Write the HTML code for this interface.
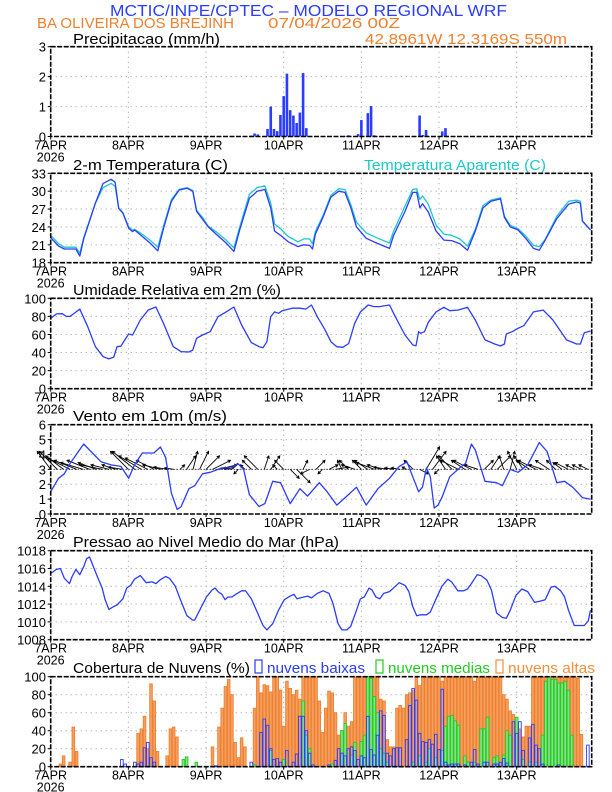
<!DOCTYPE html>
<html><head><meta charset="utf-8"><style>
html,body{margin:0;padding:0;background:#fff;}
svg{display:block;font-family:"Liberation Sans",sans-serif;}
</style></head><body>
<svg id="chart" width="612" height="792" viewBox="0 0 612 792" xmlns="http://www.w3.org/2000/svg">
<text x="110" y="16" font-size="16" fill="#2a3cff" textLength="397" lengthAdjust="spacingAndGlyphs">MCTIC/INPE/CPTEC – MODELO REGIONAL WRF</text>
<text x="37" y="28" font-size="15" fill="#ee8030" textLength="197" lengthAdjust="spacingAndGlyphs">BA OLIVEIRA DOS BREJINH</text>
<text x="268" y="28" font-size="15" fill="#ee8030" textLength="132" lengthAdjust="spacingAndGlyphs">07/04/2026 00Z</text>
<text x="365" y="44" font-size="15" fill="#ee8030" textLength="202" lengthAdjust="spacingAndGlyphs">42.8961W 12.3169S 550m</text>
<text x="73" y="44" font-size="15" fill="#000" textLength="147" lengthAdjust="spacingAndGlyphs">Precipitacao (mm/h)</text>
<text x="73" y="170" font-size="15" fill="#000" textLength="155" lengthAdjust="spacingAndGlyphs">2-m Temperatura (C)</text>
<text x="364" y="170" font-size="15" fill="#1ec8c8" textLength="182" lengthAdjust="spacingAndGlyphs">Temperatura Aparente (C)</text>
<text x="73" y="295" font-size="15" fill="#000" textLength="208" lengthAdjust="spacingAndGlyphs">Umidade Relativa em 2m (%)</text>
<text x="73" y="421" font-size="15" fill="#000" textLength="154" lengthAdjust="spacingAndGlyphs">Vento em 10m (m/s)</text>
<text x="73" y="547" font-size="15" fill="#000" textLength="266" lengthAdjust="spacingAndGlyphs">Pressao ao Nivel Medio do Mar (hPa)</text>
<text x="73" y="673" font-size="15" fill="#000" textLength="177" lengthAdjust="spacingAndGlyphs">Cobertura de Nuvens (%)</text>
<rect x="255" y="660" width="7" height="13" fill="none" stroke="#2a3cff" stroke-width="1.2"/>
<text x="267" y="673" font-size="15" fill="#2a3cff" textLength="98" lengthAdjust="spacingAndGlyphs">nuvens baixas</text>
<rect x="376" y="660" width="7" height="13" fill="none" stroke="#22cc22" stroke-width="1.2"/>
<text x="388" y="673" font-size="15" fill="#22cc22" textLength="102" lengthAdjust="spacingAndGlyphs">nuvens medias</text>
<rect x="496" y="660" width="7" height="13" fill="none" stroke="#f0903e" stroke-width="1.2"/>
<text x="508" y="673" font-size="15" fill="#f0903e" textLength="87" lengthAdjust="spacingAndGlyphs">nuvens altas</text>
</svg>
<script>
// ---- data ----
const dayLabels = ["7APR","8APR","9APR","10APR","11APR","12APR","13APR"];
const precipHours = [38,42,62,63,64,67,68,69,70,71,72,73,74,75,76,77,78,79,91,92,95,96,98,99,100,103,114,115,116,121,122,159];
const precipVals = [0.01,0.03,0.03,0.1,0.07,0.25,1.0,0.25,0.18,0.72,1.35,2.1,0.88,0.7,0.45,0.8,2.12,0.28,0.02,0.04,0.08,0.55,0.78,1.02,0.04,0.01,0.7,0.05,0.22,0.17,0.28,0.01];
const tempHours = [0,2.4,4.2,7.8,9,10.2,13.8,16.2,18.7,19.9,21,22.3,24.1,25.3,25.9,27.7,30.7,33.1,34.9,37.3,39.7,42.1,43.9,45.1,46.9,48.7,51.1,54.2,56.6,58.4,61.4,63.8,66.2,68,69.2,71,73.4,76.4,78.2,80,80.9,81.8,84.2,86.6,89,90.9,92.7,94.5,97.5,101.1,104.7,105.9,109.5,111.9,113.1,114.1,114.9,116.7,119.1,121.5,123.9,126.4,128.8,131.2,133.6,136,139,140.2,142,144.4,146.8,149.2,151,152.8,156.4,160,162.5,163.7,164.3,166.8];
const tempVals = [22.2,20.8,20.3,20.3,19.1,22.0,28.0,31.3,32.0,31.5,27.1,26.3,23.8,23.2,23.5,22.7,21.3,20.0,23.8,28.3,30.2,30.5,30.0,26.6,25.3,24.0,22.8,21.3,19.9,23.5,28.8,30.0,30.3,27.2,23.3,22.6,21.5,20.7,21.0,20.9,20.3,22.8,25.7,29.0,30.0,29.8,27.3,24.0,22.1,21.2,20.4,22.5,26.6,29.8,29.8,27.2,27.9,26.5,23.3,21.8,21.7,21.2,20.1,23.3,27.2,28.3,28.7,25.6,24.0,23.5,22.1,20.4,20.1,21.8,25.4,27.8,28.2,28.0,25.0,23.5];
const apparentVals = [22.6,21.2,20.6,20.6,19.6,22.2,28.0,30.6,31.3,30.8,27.2,26.4,24.0,23.4,23.6,23.0,21.8,20.6,24.2,28.6,30.3,30.6,30.1,26.8,25.6,24.1,23.2,21.8,20.5,24.0,29.5,30.6,30.9,28.0,24.5,23.7,22.4,21.5,22.0,22.0,21.2,23.2,26.0,29.3,30.4,30.3,27.8,24.8,23.0,22.1,21.3,23.2,27.5,30.3,30.4,28.6,29.2,27.8,24.3,22.8,22.6,22.0,20.8,23.6,27.6,28.5,28.9,25.8,24.3,23.7,22.5,20.9,20.7,21.9,25.8,28.3,28.5,28.3,25.0,23.5];
const rhHours = [0,1.8,3.6,4.8,6,9,11.4,13.8,16.2,18,19.5,20.5,21.7,22.9,24.1,25.3,27.7,30.1,32.5,34.9,37.9,40.3,42.7,43.9,45.1,46.9,49.3,51.7,54.2,56.6,59,62,64.4,65.6,66.8,68,69.2,70.4,71.6,74.6,77,78.8,80.6,82.4,84.8,86.6,88.4,90.3,92.1,93.9,95.7,98.1,99.9,101.7,104.7,106.5,109.5,111.9,112.9,113.7,114.3,115.5,116.7,119.1,121.5,123.3,125.8,128.8,131.2,134.2,137.2,139,140.2,140.8,142.6,144.4,146.2,149.2,152.2,155.2,159.4,162.5,163.7,164.9,166.8];
const rhVals = [77.9,82.7,83,80,80,88,69,46.5,35.4,33,35,46.5,47,54,60.5,59.4,76,87,90.4,72,46.5,41,40.6,42.8,55.7,59.4,63,79.7,85,90.4,70.5,51,46.5,45.4,52,79.7,85,83.4,86.3,89,89,88,92.6,79.7,65,52,46.5,45.8,50,72,85,92.6,90.8,90.8,92.6,79.7,59.4,48.3,47.6,63,61.3,63,73.4,85,90,86.3,87,90,76,54,49.4,47.2,49.4,60.5,63,66.8,69.7,85,87,76,54,49.4,49.4,62,63.8];
const windHours = [0,2.4,4.2,6,10.2,12,15.6,18.7,21.7,24.1,25.9,28.3,31.9,33.9,35.5,37.3,39.1,40.3,42.7,44.5,46.9,49.3,52.9,56,57.8,59.6,61.4,64.4,66.2,68.6,71,74,77,79.4,83,85.4,88.4,91.5,94.5,97.5,101.1,104.7,107.7,110.1,111.9,113.7,114.9,116.1,117.3,118.5,119.7,120.9,123.3,126.4,128.2,130,131.2,134.2,137.8,139.6,142,144.4,147.4,151,153.4,156.4,158.8,161.3,164.3,166.8];
const windSpeed = [1.5,2.4,2.7,3.4,4.7,4.3,3.5,3.3,3.2,2.4,3.3,4.1,4.1,4.5,3.8,1.4,0.3,0.5,1.7,1.9,2.7,2.8,3.1,3.1,3.4,3.0,1.3,0.5,0.7,2.2,2.1,0.7,1.7,1.2,2.1,1.5,0.6,1.2,1.8,0.6,1.7,2.4,3.2,3.5,2.5,1.5,1.8,3.1,2.5,0.4,0.6,1.1,2.5,3.1,3.4,4.7,4.3,2.2,2.1,1.9,3.0,2.8,3.3,4.8,4.2,2.1,2.2,1.8,1.1,1.0];
const vecHours = [0,2,4,6,8,10,12,14,16,18,20,22,24,26,28,30,32,34,36,38,40,42,44,46,48,50,52,54,56,58,60,62,64,66,68,70,72,74,76,78,80,82,84,86,88,90,92,94,96,98,100,102,104,106,108,110,112,114,116,118,120,122,124,126,128,130,132,134,136,138,140,142,144,146,148,150,152,154,156,158,160,162,164,166];
const windU = [-3,-4,-4,-5,-5,-5,-5,-4,-5,-4,-3,-3,-4,-5,-5,-5,-4,-4,-3,-2,1,2,1,2,3,4,4,2,-2,-1,-1,-2,-3,1,2,-1,-2,2,3,1,-2,2,-1,2,3,-1,-2,-3,-2,-3,-4,-3,-3,-2,-2,-1,-2,2,3,3,-1,-2,-3,-4,-3,-4,-3,2,2,3,-1,1,-2,-2,-3,-4,-3,-3,-2,-2,-3,-2,-2,-2];
const windV = [4,4,3,2.5,2,1.5,2,1.5,1,1,1,0.5,4,4,3,2.5,2,1,0.5,0.3,1,3,4,4,3,2,1,0.5,0.3,-1,1,2,3,3,3,1,2,-2,-3,2,-1,2,-1,1,0.5,2,2,1,2,2,1.5,1,0.5,0.3,0.3,0.5,2,-1,5,4,-1,3,3,2,2,2,1,2,3,3,3,4,4,3,2,2,1,2,2,1.5,1.5,1,1,1];
const presHours = [0,1.8,3,4.2,5.8,6.6,7.8,9,10.2,11.1,12,13.2,14.4,15.9,16.8,18,19.3,20.5,22.3,23.5,24.7,25.9,27.7,29.5,31.3,32.5,33.7,35.5,36.7,38.5,40.3,42.1,43.9,44.5,46.3,48.1,49.9,50.8,51.7,52.9,53.9,54.8,56,57.2,59,60.2,62,63.8,65.6,66.8,68.6,70.4,72.2,74,75.2,76.1,78.2,79.4,80.6,82.4,84.2,86,87.2,88.8,90,91.5,92.7,94.5,95.7,96.9,98.4,99.3,100.5,101.7,102.9,104.7,106.5,107.7,109.5,110.7,111.9,113.1,114.3,116.1,117.3,119.1,120.9,122.7,123.9,125.8,127.6,128.8,130,131.8,133,134.8,136.2,137.8,139.6,140.8,142,143.8,145.6,147.4,149.5,151,152.8,154.6,155.8,157.6,158.8,160,161.8,163.6,164.9,166.1,166.8];
const presVals = [1015.45,1015.9,1016.0,1014.9,1014.3,1015.1,1015.9,1015.3,1016.2,1017.1,1017.3,1016.2,1015.1,1013.8,1012.5,1011.4,1011.7,1011.9,1012.6,1013.8,1014.1,1014.8,1015.2,1014.4,1014.5,1014.3,1014.7,1015.1,1014.9,1014.0,1012.3,1010.7,1010.2,1010.2,1011.5,1012.8,1013.6,1013.8,1013.4,1013.1,1012.5,1012.8,1012.8,1013.1,1013.5,1013.5,1012.6,1011.1,1009.6,1009.1,1009.8,1011.3,1012.5,1012.9,1013.1,1012.6,1012.8,1012.9,1012.7,1013.2,1013.5,1013.2,1012.1,1009.8,1009.1,1009.1,1009.5,1011.3,1012.6,1012.8,1013.8,1013.6,1012.8,1012.6,1013.2,1013.4,1014.0,1014.4,1014.1,1013.4,1011.7,1010.7,1010.8,1010.8,1011.1,1012.6,1014.0,1014.8,1014.5,1013.5,1013.5,1013.7,1014.3,1015.3,1015.2,1014.7,1013.6,1011.0,1010.5,1010.4,1011.3,1013.0,1013.7,1013.4,1012.2,1012.3,1012.5,1013.9,1014.0,1013.5,1012.8,1011.3,1009.6,1009.6,1009.6,1010.1,1011.3];
const highHours = [3,4,6,7,8,27,28,29,30,31,32,33,36,37,38,39,50,52,53,54,55,56,57,58,59,60,63,64,65,66,67,68,69,70,71,72,73,74,75,76,77,78,79,80,81,82,83,84,85,86,87,88,89,90,91,92,93,94,95,96,97,98,99,100,101,102,103,104,105,106,107,108,109,110,111,112,113,114,115,116,117,118,119,120,121,122,123,124,125,126,127,128,129,130,131,132,133,134,135,136,137,138,139,140,141,142,143,144,145,146,147,148,149,150,151,152,153,154,155,156,157,158,159,160,161,162,163,164];
const highVals = [3,12,5,44,17,37,42,56,20,92,73,17,12,42,44,33,22,44,65,89,97,80,27,10,32,22,65,100,82,91,90,83,100,100,85,45,95,87,80,85,75,100,100,100,100,100,73,38,65,84,82,60,35,40,60,45,50,100,100,100,100,100,100,100,100,75,73,30,22,22,65,68,65,80,82,85,100,90,100,100,100,100,100,100,95,100,100,100,100,100,100,100,100,100,95,100,100,100,100,100,100,100,100,80,75,62,58,52,42,33,45,45,100,100,100,100,100,100,100,100,100,100,100,100,100,100,98,36];
const midHours = [41,42,45,63,68,72,78,79,80,87,90,91,93,94,96,97,98,99,100,101,102,103,104,112,114,116,117,119,121,122,123,124,125,126,128,129,131,133,134,135,137,138,140,141,142,144,146,148,150,152,153,154,155,156,157,158,159,160,161];
const midVals = [8,11,5,2,18,8,73,35,20,3,40,48,13,27,28,35,100,98,78,60,20,15,5,5,12,5,20,10,18,45,56,57,51,46,12,5,5,42,42,55,10,12,13,40,35,55,8,5,5,35,95,100,97,97,93,93,95,85,35];
const lowHours = [22,23,26,27,28,29,30,31,32,51,62,65,66,67,68,69,70,71,73,75,76,77,78,79,80,81,86,88,89,90,91,92,93,94,95,96,97,98,99,100,101,102,103,104,105,106,107,108,110,111,112,113,114,115,116,117,118,119,120,121,122,123,124,125,126,128,130,131,132,134,135,137,138,139,140,141,143,144,145,146,148,149,150,151,152,157,166];
const lowVals = [8,3,5,3,5,21,27,10,5,1,5,38,53,46,20,8,9,5,18,5,14,56,56,40,15,2,2,7,20,15,12,20,22,18,8,12,10,56,19,13,35,62,57,15,12,20,21,21,30,68,87,74,37,28,27,30,25,36,19,86,5,2,3,3,3,2,5,19,3,5,5,3,3,5,9,4,50,37,50,18,32,47,24,20,3,2,24];

// ---- layout ----
const svg = document.getElementById('chart');
const NS = 'http://www.w3.org/2000/svg';
const X0 = 50.7, PXH = 3.236, XR = 591.7;
function xh(h){ return X0 + h*PXH; }
function mk(tag, attrs, parent){
  const e = document.createElementNS(NS, tag);
  for (const k in attrs) e.setAttribute(k, attrs[k]);
  (parent||svg).appendChild(e);
  return e;
}
const BLUE = '#2a3cff';
function panel(name, top, bot, min, max, ticks){
  const g = mk('g', {});
  
  
  const ys = v => bot - (v-min)/(max-min)*(bot-top);
  ticks.forEach(t => {
    if (t !== min && t !== max) {
      const l = mk('line', {x1:X0, x2:XR, y1:ys(t), y2:ys(t), stroke:'#999', 'stroke-width':1, 'stroke-dasharray':'1,4'}, g);
      
      
    }
    const tl = mk('text', {x:46, y:ys(t)+5, 'font-size':13, 'text-anchor':'end', fill:'#000'}, g);
    
    
    tl.textContent = String(t);
    const tk = mk('line', {x1:X0-3, x2:X0, y1:ys(t), y2:ys(t), stroke:'#000'}, g);
    
    
  });
  dayLabels.forEach((d,i) => {
    const x = xh(i*24);
    if (i>0) {
      const l = mk('line', {x1:x, x2:x, y1:top, y2:bot, stroke:'#999', 'stroke-width':1, 'stroke-dasharray':'1,4'}, g);
      
      
    }
    const tk = mk('line', {x1:x, x2:x, y1:bot, y2:bot+3, stroke:'#000'}, g);
    
    
    const tl = mk('text', {x:x, y:bot+13, 'font-size':12.5, 'text-anchor':'middle', fill:'#000'}, g);
    
    
    tl.textContent = d;
  });
  const yr = mk('text', {x:X0, y:bot+25, 'font-size':12.5, 'text-anchor':'middle', fill:'#000'}, g);
  
  
  yr.textContent = '2026';
  const plot = mk('g', {}, g);
  
  
  return {g, plot, ys, top, bot, name};
}
function frame(p){
  const r = mk('rect', {x:X0, y:p.top, width:XR-X0, height:p.bot-p.top, fill:'none', stroke:'#000', 'stroke-width':1.6, 'stroke-dasharray':'5,1.5'}, p.g);
  
  
}
function line(p, hours, vals, color, name){
  const pts = hours.map((h,i) => xh(h).toFixed(1) + ',' + p.ys(vals[i]).toFixed(1)).join(' ');
  const pl = mk('polyline', {points:pts, fill:'none', stroke:color, 'stroke-width':1.3, 'stroke-linejoin':'round'}, p.plot);
  
  
}
function bars(p, hours, vals, fill, stroke, name, w){
  hours.forEach((h,i) => {
    const y = p.ys(vals[i]);
    const r = mk('rect', {x:xh(h)-w/2, y:y, width:w, height:Math.max(0.5, p.bot-y), fill:fill, stroke:stroke, 'stroke-width':0.9}, p.plot);
    
    
  });
}

// precipitation
const pP = panel('precip', 46.7, 136.5, 0, 3, [0,1,2,3]);
bars(pP, precipHours, precipVals, BLUE, 'none', 'precip-bar', 2.6);
frame(pP);

// temperature
const pT = panel('temp', 173.3, 262.7, 18, 33, [18,21,24,27,30,33]);
line(pT, tempHours, apparentVals, '#1ec8c8', 'apparent-temp-line');
line(pT, tempHours, tempVals, BLUE, 'temp-line');
frame(pT);

// relative humidity
const pR = panel('rh', 298.3, 388.7, 0, 100, [0,20,40,60,80,100]);
line(pR, rhHours, rhVals, BLUE, 'rh-line');
frame(pR);

// wind
const pW = panel('wind', 424.7, 514, 0, 6, [0,1,2,3,4,5,6]);
const baseY = pW.ys(3);
const bl = mk('line', {x1:X0, x2:XR, y1:baseY, y2:baseY, stroke:'#000', 'stroke-width':1, 'stroke-dasharray':'1,2'}, pW.plot);


const AS = 4.5;
vecHours.forEach((h,i) => {
  const x1 = xh(h), y1 = baseY;
  const x2 = x1 + windU[i]*AS, y2 = y1 - windV[i]*AS;
  const ang = Math.atan2(y2-y1, x2-x1);
  const hl = 3;
  const a1x = x2 - hl*Math.cos(ang-0.5), a1y = y2 - hl*Math.sin(ang-0.5);
  const a2x = x2 - hl*Math.cos(ang+0.5), a2y = y2 - hl*Math.sin(ang+0.5);
  const arrow = mk('path', {d:`M${x1},${y1}L${x2},${y2}M${a1x},${a1y}L${x2},${y2}L${a2x},${a2y}`, stroke:'#000', 'stroke-width':0.9, fill:'none'}, pW.plot);
  
  
});
line(pW, windHours, windSpeed, BLUE, 'wind-speed-line');
frame(pW);

// pressure
const pPr = panel('pressure', 550.7, 639.7, 1008, 1018, [1008,1010,1012,1014,1016,1018]);
line(pPr, presHours, presVals, BLUE, 'pressure-line');
frame(pPr);

// clouds
const pC = panel('cloud', 676.7, 766.7, 0, 100, [0,20,40,60,80,100]);
bars(pC, highHours, highVals, '#f5a060', '#ee8030', 'high-cloud-bar', 2.6);
bars(pC, midHours, midVals, '#88e088', '#22cc22', 'mid-cloud-bar', 2.6);
bars(pC, lowHours, lowVals, 'none', BLUE, 'low-cloud-bar', 2.6);
frame(pC);
</script>
</body></html>
